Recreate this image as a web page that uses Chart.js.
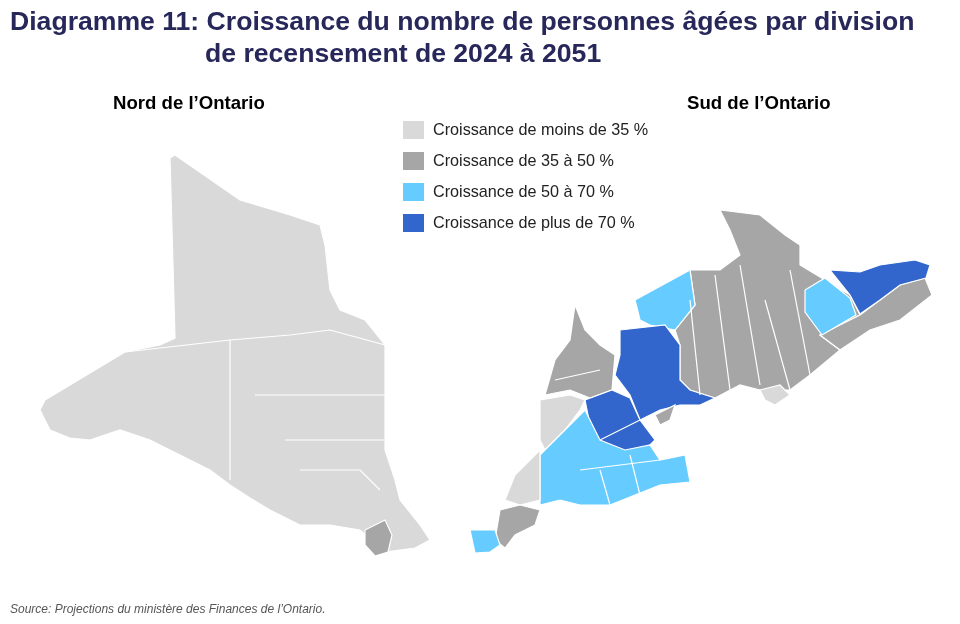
<!DOCTYPE html>
<html><head><meta charset="utf-8">
<script src="https://cdn.jsdelivr.net/npm/chart.js"></script>
<style>
body{margin:0;background:#fff;font-family:"Liberation Sans",Arial,sans-serif;}
#wrap{position:relative;width:960px;height:624px;}
canvas{position:absolute;left:0;top:0;}
.t{position:absolute;color:#27275a;font-weight:bold;font-size:26.6px;white-space:nowrap;}
.s{position:absolute;font-weight:bold;font-size:18.6px;color:#000;white-space:nowrap;}
.lg{position:absolute;left:403px;font-size:16.2px;color:#222;white-space:nowrap;}
.lg i{display:inline-block;width:21px;height:18px;vertical-align:-4px;margin-right:9px;}
.src{position:absolute;left:10px;top:602px;font-size:12px;font-style:italic;color:#555;}
</style></head><body>
<div id="wrap">
<canvas id="c" width="960" height="624"></canvas>
<div class="t" style="left:10px;top:6px">Diagramme 11: Croissance du nombre de personnes âgées par division</div>
<div class="t" style="left:205px;top:38px">de recensement de 2024 à 2051</div>
<div class="s" style="left:113px;top:92px">Nord de l’Ontario</div>
<div class="s" style="left:687px;top:92px">Sud de l’Ontario</div>
<div id="legend"></div>
<div class="src">Source: Projections du ministère des Finances de l’Ontario.</div>
</div>
<script>
const categories=["Croissance de moins de 35 %","Croissance de 35 à 50 %","Croissance de 50 à 70 %","Croissance de plus de 70 %"];
const colors=["#d9d9d9","#a6a6a6","#66ccff","#3366cc"];
const northMain=[[40,410],[45,400],[125,352],[160,345],[175,338],[170,158],[175,155],[240,200],[290,215],[320,225],[325,245],[330,290],[340,310],[365,320],[385,345],[385,450],[395,480],[400,500],[420,525],[430,540],[415,548],[385,552],[360,530],[330,525],[300,525],[270,510],[250,498],[230,485],[210,470],[180,455],[150,440],[120,430],[90,440],[70,438],[50,430]];
const northSudbury=[[365,530],[385,520],[392,535],[388,552],[375,556],[365,545]];
const eastBlock=[[720,210],[760,215],[785,235],[800,245],[800,265],[825,280],[850,295],[860,315],[820,335],[840,350],[810,375],[790,390],[760,390],[740,385],[715,398],[690,390],[680,380],[680,345],[675,330],[695,305],[690,270],[720,270],[740,255],[730,230]];
const eastSE=[[860,315],[880,300],[900,285],[925,278],[932,295],[900,320],[870,330],[840,350],[820,335]];
const renfrewBlue=[[805,290],[825,278],[850,298],[856,315],[822,335],[805,312]];
const eastDark=[[830,270],[860,272],[880,265],[915,260],[930,265],[926,278],[900,285],[880,300],[860,314],[850,295]];
const muskoka=[[635,300],[690,270],[695,305],[675,330],[650,325],[640,320]];
const centralDark=[[620,330],[665,325],[680,345],[680,380],[690,390],[715,398],[700,405],[680,405],[660,410],[640,420],[630,395],[615,375],[620,355]];
const bruceGrey=[[545,395],[555,360],[570,340],[575,305],[585,330],[600,345],[615,355],[612,390],[590,398],[570,390]];
const westDark=[[585,400],[612,390],[630,398],[640,420],[655,440],[640,455],[620,450],[600,445],[590,425]];
const huron=[[540,400],[570,395],[585,400],[580,410],[565,430],[545,450],[540,440]];
const southBlue=[[540,455],[565,430],[585,410],[600,440],[625,450],[650,445],[660,460],[685,455],[690,482],[660,485],[635,495],[610,505],[580,505],[560,500],[540,505]];
const lambton=[[515,475],[540,450],[540,500],[520,505],[505,500]];
const chatham=[[500,510],[520,505],[540,510],[535,525],[515,535],[505,548],[495,540]];
const essex=[[470,530],[495,530],[500,545],[490,552],[475,553]];
const torontoGrey=[[655,415],[675,405],[670,420],[660,425]];
const princeEdw=[[760,390],[780,385],[790,395],[775,405],[765,400]];
const regions=[[northMain,0],[northSudbury,1],[eastBlock,1],[eastSE,1],[renfrewBlue,2],[eastDark,3],[muskoka,2],[centralDark,3],[bruceGrey,1],[westDark,3],[huron,0],[southBlue,2],[lambton,0],[chatham,1],[essex,2],[torontoGrey,1],[princeEdw,0]];
const borders=[
 [[125,352],[230,340],[290,335],[330,330],[385,345]],
 [[230,340],[230,480]],
 [[255,395],[385,395]],
 [[285,440],[385,440]],
 [[300,470],[360,470],[380,490]],
 [[715,275],[730,390]],[[740,265],[760,385]],[[765,300],[790,390]],[[790,270],[810,375]],[[690,300],[700,395]],
 [[555,380],[600,370]],[[600,440],[640,420]],[[580,470],[660,460]],[[600,470],[610,505]],[[630,455],[640,495]]
];
const legend=document.getElementById('legend');
categories.forEach((c,i)=>{const d=document.createElement('div');d.className='lg';d.style.top=(120+i*31)+'px';d.innerHTML='<i style="background:'+colors[i]+'"></i>'+c;legend.appendChild(d);});
const ds=regions.map(([pts,k],i)=>({order:1000-i,data:pts.concat([pts[0]]).map(p=>({x:p[0],y:p[1]})),showLine:true,fill:'shape',backgroundColor:colors[k],borderColor:'#fff',borderWidth:1.2,pointRadius:0,tension:0}));
borders.forEach((b,i)=>ds.push({order:-i,data:b.map(p=>({x:p[0],y:p[1]})),showLine:true,fill:false,borderColor:'#fff',borderWidth:1.2,pointRadius:0}));
new Chart(document.getElementById('c'),{type:'scatter',data:{datasets:ds},options:{responsive:false,animation:false,layout:{padding:0},
 plugins:{legend:{display:false},tooltip:{enabled:false}},
 scales:{x:{display:false,min:0,max:960},y:{display:false,min:0,max:624,reverse:true}}}});
</script>
</body></html>
